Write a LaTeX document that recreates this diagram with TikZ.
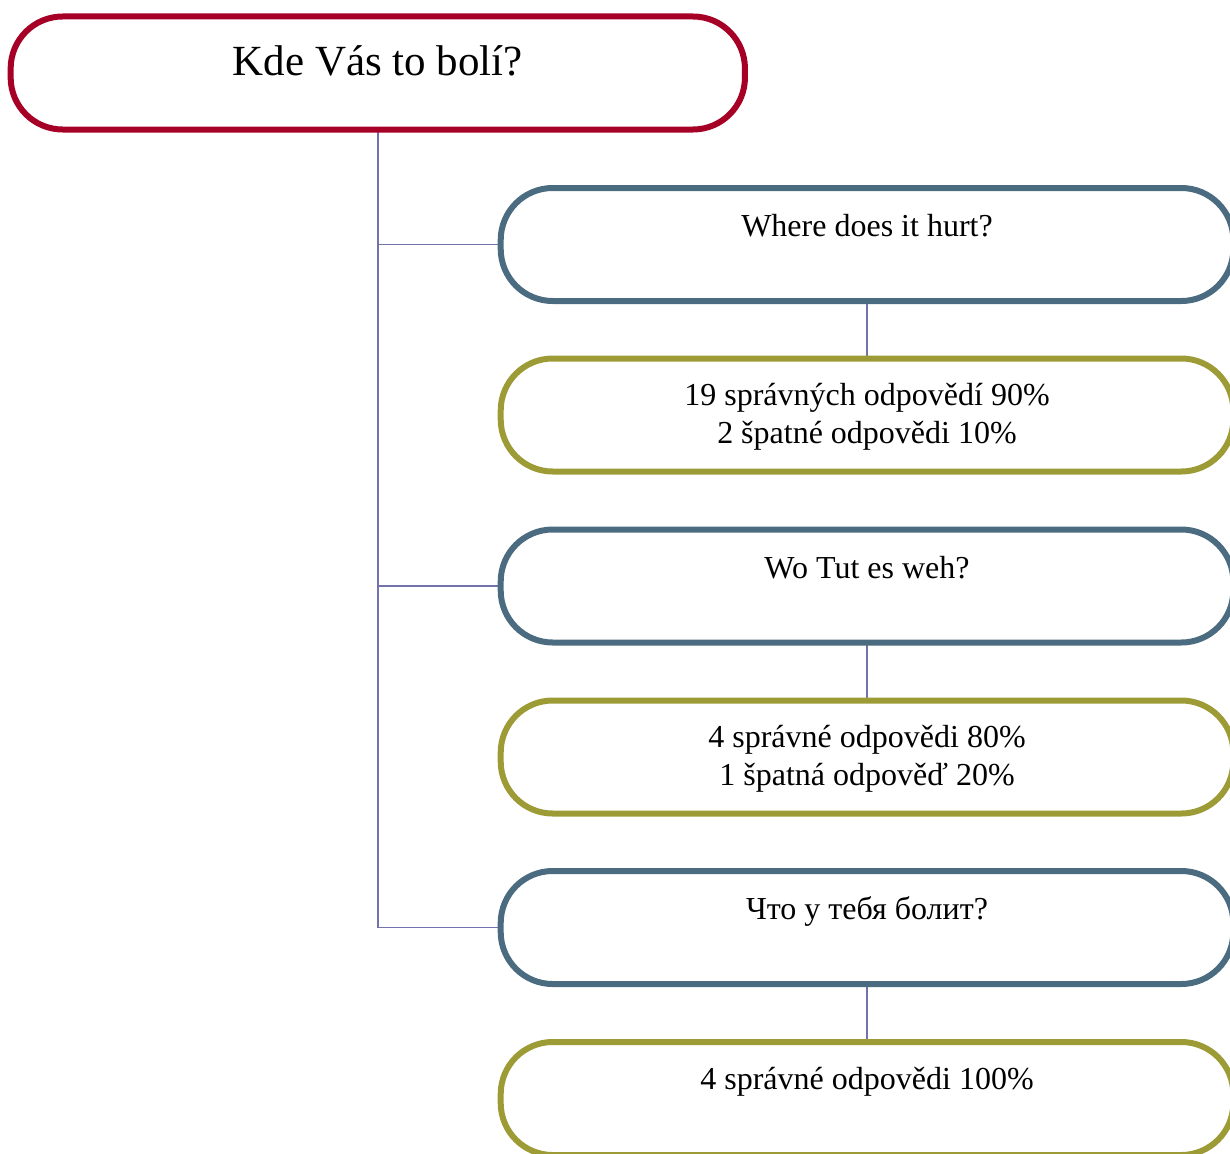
\documentclass[tikz,border=0pt]{standalone}
\usepackage{fontspec}
\setmainfont{Liberation Serif}
\usetikzlibrary{backgrounds}
\definecolor{topred}{RGB}{166,0,38}
\definecolor{qblue}{RGB}{75,108,128}
\definecolor{aolive}{RGB}{156,155,54}
\definecolor{connc}{RGB}{115,115,171}
\tikzset{
  boxbase/.style={draw, rectangle, rounded corners=52pt, line width=6pt, outer sep=0pt, inner sep=0pt},
  topbox/.style={boxbase, draw=topred, minimum width=734.3pt, minimum height=113pt},
  qbox/.style={boxbase, draw=qblue, minimum width=732.6pt, minimum height=113pt},
  abox/.style={boxbase, draw=aolive, minimum width=732.6pt, minimum height=113pt},
  toptxt/.style={anchor=base, inner sep=0pt, font=\fontsize{43}{52}\selectfont},
  txt/.style={anchor=base, inner sep=0pt, font=\fontsize{32}{38}\selectfont},
  conn/.style={draw=connc, line width=1.5pt},
}
\begin{document}
\begin{tikzpicture}[x=1pt, y=-1pt]
\useasboundingbox (0,0) rectangle (1230,1153);
\clip (0,0) rectangle (1230,1153);
\node[topbox] (top) at (377.8,73) {};
\node[qbox] (b1) at (867,244.5) {};
\node[abox] (o1) at (867,415) {};
\node[qbox] (b2) at (867,586) {};
\node[abox] (o2) at (867,757) {};
\node[qbox] (b3) at (867,927.5) {};
\node[abox] (o3) at (867,1098.5) {};
\begin{scope}[on background layer]
\draw[conn] (top.south) |- (b1.west);
\draw[conn] (top.south) |- (b2.west);
\draw[conn] (top.south) |- (b3.west);
\draw[conn] (b1.south) -- (o1.north);
\draw[conn] (b2.south) -- (o2.north);
\draw[conn] (b3.south) -- (o3.north);
\end{scope}
\node[toptxt] (ttop) at ([yshift=-59.5pt]top.north) {Kde Vás to bolí?};
\node[txt] (tb1) at ([yshift=-48.7pt]b1.north) {Where does it hurt?};
\node[txt] (to1) at ([yshift=-47.3pt]o1.north) {\begin{tabular}[t]{@{}c@{}}19 správných odpovědí 90\%\\2 špatné odpovědi 10\%\end{tabular}};
\node[txt] (tb2) at ([yshift=-48.7pt]b2.north) {Wo Tut es weh?};
\node[txt] (to2) at ([yshift=-47.3pt]o2.north) {\begin{tabular}[t]{@{}c@{}}4 správné odpovědi 80\%\\1 špatná odpověď 20\%\end{tabular}};
\node[txt] (tb3) at ([yshift=-48.7pt]b3.north) {Что у тебя болит?};
\node[txt] (to3) at ([yshift=-47.3pt]o3.north) {4 správné odpovědi 100\%};
\end{tikzpicture}
\end{document}
